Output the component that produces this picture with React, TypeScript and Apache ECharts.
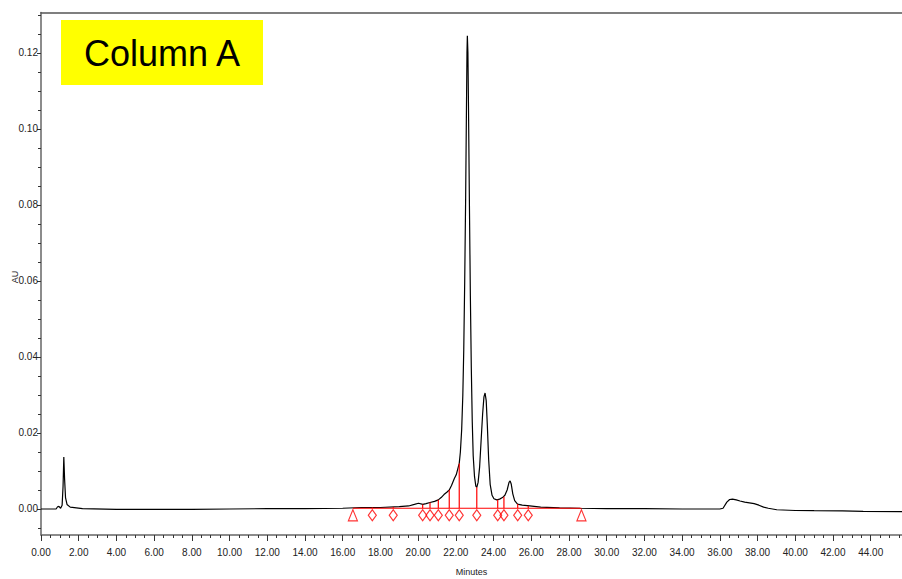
import React, { useEffect, useRef } from "react";
import * as echarts from "echarts";

// Chromatogram trace: [minutes, AU]
const trace: [number, number][] = [
  [0, 0], [0.8, 0], [0.88, 0.0006], [0.95, 0.0007], [1.04, 0.0002], [1.12, 0.001],
  [1.17, 0.006], [1.21, 0.0137], [1.25, 0.008], [1.3, 0.003], [1.38, 0.0012], [1.55, 0.0005],
  [2.2, 0.0001], [4, -0.0001], [8, -0.0001], [10, 0], [12, 0.0001], [14, 0.0001], [16, 0.0002],
  [17, 0.0004], [18, 0.0004], [19, 0.0006], [19.5, 0.0008], [19.8, 0.0012], [20.02, 0.0015],
  [20.25, 0.0012], [20.42, 0.0014], [20.63, 0.0017], [20.87, 0.002], [21.07, 0.0024],
  [21.22, 0.003], [21.37, 0.0038], [21.52, 0.0044], [21.65, 0.005], [21.77, 0.0062],
  [21.92, 0.008], [22.02, 0.009], [22.1, 0.0105], [22.18, 0.012], [22.24, 0.015],
  [22.31, 0.021], [22.37, 0.03], [22.42, 0.042], [22.47, 0.06], [22.52, 0.082],
  [22.56, 0.104], [22.59, 0.12], [22.61, 0.1245], [22.64, 0.12], [22.67, 0.106],
  [22.72, 0.08], [22.77, 0.056], [22.82, 0.037], [22.87, 0.023], [22.92, 0.014],
  [22.99, 0.0085], [23.06, 0.006], [23.11, 0.0057], [23.18, 0.007], [23.26, 0.011],
  [23.34, 0.018], [23.42, 0.025], [23.49, 0.0295], [23.55, 0.0305], [23.61, 0.0285],
  [23.67, 0.022], [23.74, 0.013], [23.82, 0.0065], [23.92, 0.0036], [24.02, 0.0027],
  [24.17, 0.0024], [24.32, 0.0026], [24.47, 0.003], [24.6, 0.0036], [24.72, 0.005],
  [24.82, 0.007], [24.88, 0.0074], [24.94, 0.0065], [25.02, 0.004], [25.12, 0.0022],
  [25.27, 0.0013], [25.52, 0.001], [25.92, 0.0008], [26.5, 0.0005], [27.5, 0.0003],
  [28.6, 0.0002], [30, 0.0001], [32, 0.0001], [34, 0], [36, 0], [36.17, 0.0002],
  [36.37, 0.0018], [36.52, 0.0025], [36.67, 0.0026], [36.87, 0.0024], [37.07, 0.0021],
  [37.32, 0.0018], [37.57, 0.0016], [37.82, 0.0014], [38.07, 0.001], [38.32, 0.0005],
  [38.57, 0.0002], [39.02, -0.0002], [40, -0.0004], [41, -0.00045], [42.5, -0.0005],
  [43.6, -0.0006], [45.66, -0.0007],
];

// Integration marks
const baselineLevel = 0.0002;
const integrationStart = 16.54;
const integrationEnd = 28.66;
const markLevel = -0.00166;
const dropTimes = [17.57, 18.68, 20.24, 20.63, 21.07, 21.65, 22.18, 23.11, 24.22, 24.55, 25.28, 25.84];
const dropHeights = [0.0004, 0.0005, 0.0012, 0.0017, 0.0024, 0.005, 0.012, 0.0057, 0.0024, 0.0032, 0.0013, 0.0008];

// Axes
const xTickLabels = ["0.00", "2.00", "4.00", "6.00", "8.00", "10.00", "12.00", "14.00", "16.00", "18.00", "20.00", "22.00", "24.00", "26.00", "28.00", "30.00", "32.00", "34.00", "36.00", "38.00", "40.00", "42.00", "44.00"];
const yTickLabels = ["0.00", "0.02", "0.04", "0.06", "0.08", "0.10", "0.12"];
const xMin = 0;
const xMax = 45.66;
const yMin = -0.00684;
const yMax = 0.1306;
const title = "Column A";
const yName = "AU";
const xName = "Minutes";

const labelFont = "'Liberation Sans Narrow', 'Arial Narrow', 'Liberation Sans', sans-serif";

export default function App() {
  const ref = useRef<HTMLDivElement>(null);

  useEffect(() => {
    if (!ref.current) return;
    const chart = echarts.init(ref.current, undefined, { renderer: "svg" });

    const xMajor = xTickLabels.map((s) => parseFloat(s));
    const yMajor = yTickLabels.map((s) => parseFloat(s));
    const xMinor: number[] = [];
    for (let i = 0; i * 0.5 <= xMax; i++) xMinor.push(i * 0.5);
    const yMinor: number[] = [];
    for (let i = -1; i * 0.005 <= yMax; i++) yMinor.push(Math.round(i * 0.005 * 1000) / 1000);

    const axisColor = "#666";
    const grid = { left: 41, right: 0, top: 12.5, bottom: 44, containLabel: false, outerBoundsMode: "none" };

    chart.setOption({
      animation: false,
      grid,
      xAxis: [
        {
          type: "value", min: xMin, max: xMax, position: "bottom",
          axisLine: { show: true, onZero: false, lineStyle: { color: axisColor, width: 1.5 } },
          axisTick: { show: true, customValues: xMajor, length: 6, lineStyle: { color: "#333" } },
          axisLabel: {
            customValues: xMajor, formatter: (v: number) => v.toFixed(2),
            fontSize: 10, fontFamily: labelFont, color: "#222", margin: 12,
          },
          splitLine: { show: false },
          name: xName, nameLocation: "middle", nameGap: 32,
          nameTextStyle: { fontSize: 9, fontFamily: labelFont, color: "#222" },
        },
        {
          type: "value", min: xMin, max: xMax, position: "bottom",
          axisLine: { show: false, onZero: false },
          axisTick: { show: true, customValues: xMinor, length: 3, lineStyle: { color: "#333" } },
          axisLabel: { show: false },
          splitLine: { show: false },
        },
        {
          type: "value", min: xMin, max: xMax, position: "top",
          axisLine: { show: true, onZero: false, lineStyle: { color: "#555", width: 1.5 } },
          axisTick: { show: false },
          axisLabel: { show: false },
          splitLine: { show: false },
        },
      ],
      yAxis: [
        {
          type: "value", min: yMin, max: yMax, position: "left",
          axisLine: { show: true, onZero: false, lineStyle: { color: axisColor, width: 1.5 } },
          axisTick: { show: true, customValues: yMajor, length: 4, lineStyle: { color: "#333" } },
          axisLabel: {
            customValues: yMajor, formatter: (v: number) => v.toFixed(2),
            fontSize: 10, fontFamily: labelFont, color: "#222", margin: 3,
          },
          splitLine: { show: false },
        },
        {
          type: "value", min: yMin, max: yMax, position: "left",
          axisLine: { show: false, onZero: false },
          axisTick: { show: true, customValues: yMinor, length: 3, lineStyle: { color: "#333" } },
          axisLabel: { show: false },
          splitLine: { show: false },
        },
      ],
      series: [
        {
          type: "line", data: trace, xAxisIndex: 0, yAxisIndex: 0,
          showSymbol: false, symbol: "none", smooth: false,
          lineStyle: { color: "#000", width: 1.2 }, z: 2,
        },
        {
          type: "line", xAxisIndex: 0, yAxisIndex: 0,
          data: [[integrationStart, baselineLevel], [integrationEnd, baselineLevel]],
          symbol: "none", lineStyle: { color: "#ff0000", width: 1.2 }, z: 3,
        },
        {
          type: "custom", xAxisIndex: 0, yAxisIndex: 0, z: 3,
          data: dropTimes.map((t, i) => [t, dropHeights[i]]),
          renderItem: (_p: any, api: any) => {
            const t = api.value(0);
            const h = api.value(1);
            const p0 = api.coord([t, baselineLevel]);
            const p1 = api.coord([t, h]);
            return {
              type: "line",
              shape: { x1: p0[0], y1: p0[1], x2: p1[0], y2: p1[1] },
              style: { stroke: "#ff0000", lineWidth: 1.2 },
            };
          },
        },
        {
          type: "scatter", xAxisIndex: 0, yAxisIndex: 0, z: 4,
          data: dropTimes.map((t) => [t, markLevel]),
          symbol: "diamond", symbolSize: [8, 11],
          itemStyle: { color: "rgba(255,255,255,0)", borderColor: "#ff0000", borderWidth: 1.2 },
        },
        {
          type: "scatter", xAxisIndex: 0, yAxisIndex: 0, z: 4,
          data: [[integrationStart, markLevel], [integrationEnd, markLevel]],
          symbol: "triangle", symbolSize: [9, 11],
          itemStyle: { color: "rgba(255,255,255,0)", borderColor: "#ff0000", borderWidth: 1.2 },
        },
      ],
      graphic: [
        {
          type: "rect", left: 61, top: 20, z: 10,
          shape: { width: 202, height: 65 },
          style: { fill: "#ffff00" },
        },
        {
          type: "text", x: 162, y: 53, z: 11,
          style: {
            text: title, fill: "#000", font: "36px 'Liberation Sans', Arial, sans-serif",
            align: "center", verticalAlign: "middle",
          },
        },
        {
          type: "text", x: 15, y: 277, rotation: Math.PI / 2, z: 11,
          style: {
            text: yName, fill: "#222", font: "9px " + labelFont,
            align: "center", verticalAlign: "middle",
          },
        },
      ],
    });

    return () => chart.dispose();
  }, []);

  return (
    <div
      ref={ref}
      style={{ width: 902, height: 579, position: "absolute", left: 0, top: 0, background: "#fff" }}
    />
  );
}
